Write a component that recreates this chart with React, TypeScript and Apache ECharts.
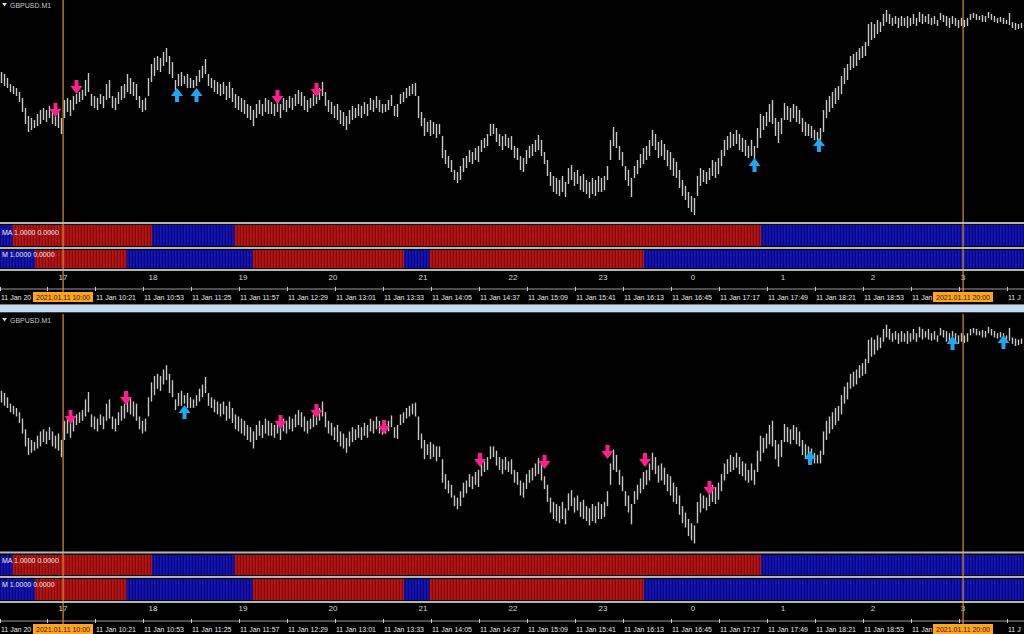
import React, { useEffect, useRef } from 'react';
import * as echarts from 'echarts';

// ---------------- DATA ----------------
const SYMBOL = 'GBPUSD.M1';
const MA_TITLE = 'MA 1.0000 0.0000';
const M_TITLE = 'M 1.0000 0.0000';

const BASE_PRICE = 1.34;   // HIGH_PTS / LOW_PTS are points (0.00001) above this price
const FIRST_BAR_MIN = 559; // minutes after midnight, 11 Jan 2021 (09:19)
const BAR_STEP_MIN = 2;

const HIGH_PTS = [
  1640,1630,1610,1580,1570,1560,1540,1510,1460,1420,
  1410,1400,1430,1450,1460,1450,1470,1450,1430,1440,
  1410,1500,1510,1500,1520,1530,1540,1550,1600,1635,
  1530,1520,1510,1530,1520,1580,1600,1520,1510,1540,
  1570,1580,1630,1610,1590,1580,1520,1500,1510,1610,
  1680,1710,1720,1710,1740,1760,1720,1690,1600,1630,
  1640,1620,1630,1610,1600,1620,1650,1670,1705,1630,
  1610,1600,1590,1580,1590,1570,1590,1560,1530,1520,
  1510,1500,1480,1470,1450,1480,1500,1480,1510,1500,
  1490,1480,1490,1480,1510,1500,1520,1510,1530,1550,
  1540,1520,1500,1510,1530,1520,1560,1590,1540,1500,
  1490,1470,1480,1450,1440,1420,1450,1470,1460,1480,
  1470,1490,1480,1510,1500,1520,1500,1480,1480,1500,
  1525,1470,1480,1530,1540,1560,1570,1580,1585,1520,
  1440,1410,1390,1400,1390,1380,1380,1320,1250,1220,
  1200,1150,1140,1170,1210,1220,1250,1240,1260,1270,
  1300,1310,1330,1380,1380,1360,1330,1320,1330,1310,
  1320,1270,1260,1220,1210,1250,1270,1280,1300,1325,
  1300,1240,1200,1140,1120,1110,1100,1120,1090,1160,
  1175,1140,1150,1120,1130,1100,1090,1110,1100,1120,
  1110,1120,1170,1300,1365,1340,1270,1240,1170,1150,
  1110,1170,1200,1230,1260,1270,1300,1350,1330,1290,
  1300,1280,1250,1240,1210,1190,1150,1100,1070,1040,
  1020,1010,1120,1160,1150,1140,1160,1200,1190,1210,
  1250,1300,1320,1340,1330,1350,1330,1310,1300,1270,
  1300,1270,1360,1430,1420,1440,1480,1500,1410,1390,
  1410,1485,1470,1460,1480,1470,1450,1410,1390,1380,
  1370,1350,1340,1360,1450,1500,1520,1540,1560,1570,
  1620,1660,1680,1720,1730,1740,1760,1770,1790,1880,
  1890,1880,1900,1890,1930,1950,1930,1910,1920,1910,
  1920,1910,1920,1910,1930,1910,1940,1930,1920,1930,
  1910,1920,1900,1935,1925,1920,1910,1920,1910,1900,
  1910,1900,1910,1930,1935,1930,1920,1925,1920,1940,
  1930,1920,1910,1915,1910,1900,1935,1890,1885,1880,1885,
];
const LOW_PTS = [
  1585,1570,1560,1540,1530,1520,1490,1440,1380,1340,
  1350,1360,1370,1380,1400,1390,1410,1380,1370,1360,
  1330,1410,1440,1420,1450,1480,1490,1500,1520,1540,
  1470,1460,1450,1480,1460,1500,1510,1460,1450,1480,
  1500,1510,1540,1530,1520,1500,1460,1440,1450,1520,
  1590,1620,1650,1640,1670,1690,1630,1610,1550,1570,
  1570,1580,1560,1560,1560,1570,1590,1610,1630,1570,
  1560,1540,1530,1520,1530,1500,1510,1490,1460,1450,
  1440,1430,1410,1400,1370,1410,1430,1420,1440,1430,
  1430,1420,1440,1410,1450,1440,1460,1450,1470,1480,
  1470,1450,1440,1460,1470,1480,1500,1520,1470,1440,
  1430,1410,1400,1380,1370,1350,1380,1400,1410,1420,
  1410,1430,1420,1450,1440,1460,1440,1435,1440,1450,
  1470,1420,1415,1480,1490,1510,1520,1530,1520,1410,
  1370,1320,1340,1320,1330,1310,1330,1210,1180,1160,
  1140,1100,1085,1100,1140,1160,1190,1180,1200,1190,
  1240,1260,1270,1320,1330,1290,1270,1250,1270,1260,
  1250,1210,1200,1150,1140,1180,1210,1220,1240,1250,
  1220,1180,1120,1070,1040,1030,1020,1040,1015,1080,
  1100,1070,1080,1050,1040,1030,1010,1030,1020,1040,
  1040,1050,1100,1200,1270,1260,1200,1170,1100,1070,
  1015,1110,1130,1160,1180,1200,1220,1270,1250,1210,
  1220,1200,1170,1150,1120,1110,1060,1020,1000,960,
  940,925,1020,1070,1090,1080,1100,1120,1110,1130,
  1170,1220,1250,1260,1270,1280,1250,1240,1220,1210,
  1220,1200,1260,1310,1350,1370,1390,1380,1320,1285,
  1330,1400,1400,1390,1410,1390,1380,1340,1320,1320,
  1310,1300,1300,1300,1340,1410,1440,1460,1480,1500,
  1530,1580,1600,1650,1660,1670,1700,1710,1720,1770,
  1800,1810,1830,1840,1870,1890,1880,1870,1880,1860,
  1870,1870,1860,1870,1880,1870,1890,1880,1890,1880,
  1875,1880,1870,1900,1890,1870,1860,1880,1870,1860,
  1870,1865,1870,1900,1910,1900,1900,1890,1890,1910,
  1900,1890,1885,1890,1880,1880,1875,1860,1850,1855,1860,
];

const HOUR_TIMES = [600, 660, 720, 780, 840, 900, 960, 1020, 1080, 1140, 1200];
const HOUR_LABELS = ['17', '18', '19', '20', '21', '22', '23', '0', '1', '2', '3'];

const TIME_TICK_MIN = [558, 589, 621, 653, 685, 717, 749, 781, 813, 845, 877, 909, 941, 973, 1005, 1037, 1069, 1101, 1133, 1165, 1197, 1229];
const TIME_TICK_LABELS = [
  '11 Jan 2021', '11 Jan 09:49', '11 Jan 10:21', '11 Jan 10:53', '11 Jan 11:25', '11 Jan 11:57',
  '11 Jan 12:29', '11 Jan 13:01', '11 Jan 13:33', '11 Jan 14:05', '11 Jan 14:37', '11 Jan 15:09',
  '11 Jan 15:41', '11 Jan 16:13', '11 Jan 16:45', '11 Jan 17:17', '11 Jan 17:49', '11 Jan 18:21',
  '11 Jan 18:53', '11 Jan 19:25', '11 Jan 19:57', '11 Jan 20:29',
];

const MARKER_MIN = [600, 1200];
const MARKER_LABELS = ['2021.01.11 10:00', '2021.01.11 20:00'];

const MA_SWITCH_MIN = [558, 567, 660, 715, 1066];
const MA_STATES = ['bull', 'bear', 'bull', 'bear', 'bull'];
const M_SWITCH_MIN = [558, 582, 643, 727, 828, 845, 988];
const M_STATES = ['bull', 'bear', 'bull', 'bear', 'bull', 'bear', 'bull'];

const TOP_SELL_MIN = [595, 609, 743, 769];
const TOP_SELL_PTS = [1450, 1565, 1515, 1550];
const TOP_BUY_MIN = [676, 689, 1061, 1104];
const TOP_BUY_PTS = [1525, 1525, 1175, 1275];
const BOT_SELL_MIN = [605, 642, 745, 769, 814, 878, 921, 963, 988, 1031];
const BOT_SELL_PTS = [1518, 1607, 1494, 1546, 1471, 1316, 1307, 1354, 1316, 1185];
const BOT_BUY_MIN = [681, 1098, 1193, 1227];
const BOT_BUY_PTS = [1541, 1326, 1864, 1869];

// ---------------- LAYOUT / STYLE ----------------
const W = 1024;
const H = 634;
const VIEW_MIN = 558;
const VIEW_MAX = 558 + 1024 / 1.5;
const PRICE_MIN = BASE_PRICE + 890 / 1e5;
const PRICE_MAX = BASE_PRICE + 2000 / 1e5;
const FONT = '"Liberation Sans", Arial, sans-serif';
const BOX_HALF = 30;
const LABEL_W = 41;

const PANELS = [
  { priceTop: 0, priceH: 222, maTop: 225, maH: 21, mTop: 250, mH: 18, seps: [222, 247, 269], titleY: 5, maTitleY: 232, mTitleY: 254, hourY: 277, axisY: 289, labelY: 297, boxTop: 292, lineTop: 0, sell: [TOP_SELL_MIN, TOP_SELL_PTS], buy: [TOP_BUY_MIN, TOP_BUY_PTS] },
  { priceTop: 314, priceH: 237, maTop: 555, maH: 20, mTop: 579, mH: 21, seps: [551.5, 576, 601], titleY: 320, maTitleY: 560, mTitleY: 584, hourY: 608, axisY: 621, labelY: 629, boxTop: 624, lineTop: 314, sell: [BOT_SELL_MIN, BOT_SELL_PTS], buy: [BOT_BUY_MIN, BOT_BUY_PTS] },
];

function stripData(switches: number[], states: string[]) {
  const out: number[][] = [];
  for (let m = VIEW_MIN; m <= Math.floor(VIEW_MAX); m++) {
    let k = 0;
    for (let j = 0; j < switches.length; j++) if (m >= switches[j]) k = j;
    out.push([m, states[k] === 'bear' ? 1 : 0]);
  }
  return out;
}

function buildOption() {
  const bars = HIGH_PTS.map((h, i) => [FIRST_BAR_MIN + BAR_STEP_MIN * i, BASE_PRICE + h / 1e5, BASE_PRICE + LOW_PTS[i] / 1e5]);
  const maData = stripData(MA_SWITCH_MIN, MA_STATES);
  const mData = stripData(M_SWITCH_MIN, M_STATES);

  const grid: any[] = [];
  const xAxis: any[] = [];
  const yAxis: any[] = [];
  const series: any[] = [];
  const graphic: any[] = [];

  const barRender = (params: any, api: any) => {
    const t = api.value(0);
    const a = api.coord([t, api.value(1)]);
    const b = api.coord([t, api.value(2)]);
    return { type: 'rect', shape: { x: a[0] - 0.7, y: a[1], width: 1.4, height: Math.max(b[1] - a[1], 1) }, style: { fill: '#c8c8c8' } };
  };
  const stripRender = (params: any, api: any) => {
    const m = api.value(0);
    const bear = api.value(1) === 1;
    const a = api.coord([m - 0.5, 1]);
    const b = api.coord([m + 0.5, 0]);
    const w = b[0] - a[0];
    return {
      type: 'group', children: [
        { type: 'rect', shape: { x: a[0], y: a[1], width: w, height: b[1] - a[1] }, style: { fill: bear ? '#780808' : '#00006c' } },
        { type: 'rect', shape: { x: a[0] + 0.15, y: a[1], width: w * 0.55, height: b[1] - a[1] }, style: { fill: bear ? '#d41a1a' : '#1c1cd8' } },
      ],
    };
  };
  const arrowRender = (up: boolean) => (params: any, api: any) => {
    const p = api.coord([api.value(0), api.value(1)]);
    const cx = p[0], cy = p[1];
    const pts = up
      ? [[cx, cy - 7], [cx + 6, cy + 1], [cx + 2, cy + 1], [cx + 2, cy + 7], [cx - 2, cy + 7], [cx - 2, cy + 1], [cx - 6, cy + 1]]
      : [[cx - 2, cy - 7], [cx + 2, cy - 7], [cx + 2, cy - 1], [cx + 6, cy - 1], [cx, cy + 7], [cx - 6, cy - 1], [cx - 2, cy - 1]];
    return { type: 'polygon', shape: { points: pts }, style: { fill: up ? '#1ea8f2' : '#ff1f8c' } };
  };

  PANELS.forEach((P, pi) => {
    const g0 = pi * 3;
    grid.push({ left: 0, top: P.priceTop, width: W, height: P.priceH, outerBoundsMode: 'none' });
    grid.push({ left: 0, top: P.maTop, width: W, height: P.maH, outerBoundsMode: 'none' });
    grid.push({ left: 0, top: P.mTop, width: W, height: P.mH, outerBoundsMode: 'none' });
    for (let k = 0; k < 3; k++) {
      xAxis.push({ type: 'value', gridIndex: g0 + k, min: VIEW_MIN, max: VIEW_MAX, show: false });
      yAxis.push(k === 0
        ? { type: 'value', gridIndex: g0 + k, min: PRICE_MIN, max: PRICE_MAX, show: false }
        : { type: 'value', gridIndex: g0 + k, min: 0, max: 1, show: false });
    }

    series.push({ type: 'custom', name: 'bars' + pi, xAxisIndex: g0, yAxisIndex: g0, data: bars, renderItem: barRender, clip: true, z: 2, silent: true });
    series.push({ type: 'custom', name: 'ma' + pi, xAxisIndex: g0 + 1, yAxisIndex: g0 + 1, data: maData, renderItem: stripRender, z: 2, silent: true });
    series.push({ type: 'custom', name: 'm' + pi, xAxisIndex: g0 + 2, yAxisIndex: g0 + 2, data: mData, renderItem: stripRender, z: 2, silent: true });

    const [sellMin, sellPts] = P.sell as number[][];
    const [buyMin, buyPts] = P.buy as number[][];
    series.push({ type: 'custom', name: 'sell' + pi, xAxisIndex: g0, yAxisIndex: g0, data: sellMin.map((t, i) => [t, BASE_PRICE + sellPts[i] / 1e5]), renderItem: arrowRender(false), z: 4, silent: true });
    series.push({ type: 'custom', name: 'buy' + pi, xAxisIndex: g0, yAxisIndex: g0, data: buyMin.map((t, i) => [t, BASE_PRICE + buyPts[i] / 1e5]), renderItem: arrowRender(true), z: 4, silent: true });

    // hour labels
    series.push({
      type: 'custom', name: 'hours' + pi, xAxisIndex: g0 + 2, yAxisIndex: g0 + 2, clip: false, z: 5, silent: true,
      data: HOUR_TIMES.map((t, i) => [t, 0, i]),
      renderItem: (params: any, api: any) => {
        const x = api.coord([api.value(0), 0])[0];
        return { type: 'text', x, y: P.hourY, style: { text: HOUR_LABELS[params.dataIndex], fill: '#d8d8d8', font: '8px ' + FONT, align: 'center', textAlign: 'center', verticalAlign: 'middle', textVerticalAlign: 'middle' } };
      },
    });
    // time ticks + labels (labels are cut where an orange marker box or the window edge covers them)
    series.push({
      type: 'custom', name: 'times' + pi, xAxisIndex: g0 + 2, yAxisIndex: g0 + 2, clip: false, z: 5, silent: true,
      data: TIME_TICK_MIN.map((t, i) => [t, 0, i]),
      renderItem: (params: any, api: any) => {
        const x = Math.round(api.coord([api.value(0), 0])[0]) + 0.5;
        const children: any[] = [
          { type: 'rect', shape: { x: x - 0.5, y: P.axisY - 2, width: 1, height: 4 }, style: { fill: '#d0d0d0' } },
        ];
        let width = Math.min(LABEL_W, W - x - 1);
        let hidden = false;
        MARKER_MIN.forEach((mm) => {
          const bx = api.coord([mm, 0])[0];
          const left = bx - BOX_HALF, right = bx + BOX_HALF;
          if (x < left && x + LABEL_W > left) width = Math.min(width, left - x + 1);
          if (x >= left && x < right) hidden = true;
        });
        if (!hidden) {
          children.push({ type: 'text', x: x + 0.5, y: P.labelY, style: { text: TIME_TICK_LABELS[params.dataIndex], fill: '#e6e6e6', font: '7px ' + FONT, align: 'left', textAlign: 'left', verticalAlign: 'middle', textVerticalAlign: 'middle', width, overflow: 'truncate', ellipsis: '' } });
        }
        return { type: 'group', children };
      },
    });
    // orange period markers
    series.push({
      type: 'custom', name: 'markers' + pi, xAxisIndex: g0 + 2, yAxisIndex: g0 + 2, clip: false, z: 20, silent: true,
      data: MARKER_MIN.map((t, i) => [t, 0, i]),
      renderItem: (params: any, api: any) => {
        const x = Math.round(api.coord([api.value(0), 0])[0]);
        return {
          type: 'group', children: [
            { type: 'rect', shape: { x: x - 0.5, y: P.lineTop, width: 1.2, height: P.boxTop - P.lineTop }, style: { fill: '#e0901c' } },
            { type: 'rect', shape: { x: x - BOX_HALF, y: P.boxTop, width: BOX_HALF * 2, height: 10 }, style: { fill: '#ffa41c' } },
            { type: 'text', x, y: P.boxTop + 5, style: { text: MARKER_LABELS[params.dataIndex], fill: '#2a1800', font: '7px ' + FONT, align: 'center', textAlign: 'center', verticalAlign: 'middle', textVerticalAlign: 'middle' } },
          ],
        };
      },
    });

    // static chrome
    P.seps.forEach((y) => {
      graphic.push({ type: 'rect', shape: { x: 0, y, width: W, height: 2 }, style: { fill: '#b4b4b4' }, z: 30, silent: true });
    });
    graphic.push({ type: 'rect', shape: { x: 0, y: P.axisY - 0.5, width: W, height: 1 }, style: { fill: '#9a9a9a' }, z: 3, silent: true });
    graphic.push({ type: 'polygon', shape: { points: [[2, P.titleY - 2], [7, P.titleY - 2], [4.5, P.titleY + 1.5]] }, style: { fill: '#d8d8d8' }, z: 30, silent: true });
    graphic.push({ type: 'text', x: 10, y: P.titleY, style: { text: SYMBOL, fill: '#c8c8c8', font: '7px ' + FONT, textAlign: 'left', textVerticalAlign: 'middle', align: 'left', verticalAlign: 'middle' }, z: 30, silent: true });
    graphic.push({ type: 'text', x: 2, y: P.maTitleY, style: { text: MA_TITLE, fill: '#f0f0f0', font: '7px ' + FONT, textAlign: 'left', textVerticalAlign: 'middle', align: 'left', verticalAlign: 'middle' }, z: 30, silent: true });
    graphic.push({ type: 'text', x: 2, y: P.mTitleY, style: { text: M_TITLE, fill: '#f0f0f0', font: '7px ' + FONT, textAlign: 'left', textVerticalAlign: 'middle', align: 'left', verticalAlign: 'middle' }, z: 30, silent: true });
  });

  // window border band between the two charts
  graphic.push({ type: 'rect', shape: { x: 0, y: 304, width: W, height: 1 }, style: { fill: '#7c7c7c' }, z: 30, silent: true });
  graphic.push({ type: 'rect', shape: { x: 0, y: 305, width: W, height: 7 }, style: { fill: '#c4dbf1' }, z: 30, silent: true });
  graphic.push({ type: 'rect', shape: { x: 0, y: 312, width: W, height: 1 }, style: { fill: '#404040' }, z: 30, silent: true });

  return {
    animation: false,
    backgroundColor: '#000000',
    grid, xAxis, yAxis, series, graphic,
  };
}

export default function App() {
  const ref = useRef<HTMLDivElement>(null);
  useEffect(() => {
    if (!ref.current) return;
    const chart = echarts.init(ref.current, undefined, { renderer: 'svg' });
    chart.setOption(buildOption() as any);
    return () => chart.dispose();
  }, []);
  return <div ref={ref} style={{ position: 'fixed', left: 0, top: 0, width: W, height: H, background: '#000' }} />;
}
